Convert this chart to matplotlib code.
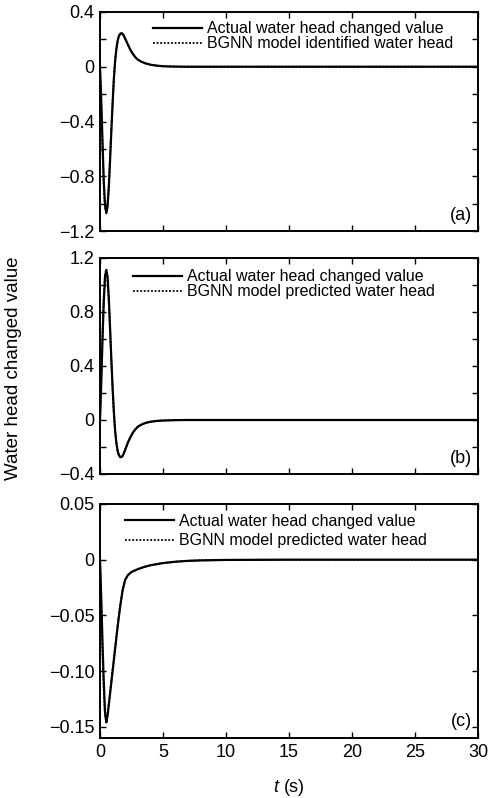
import matplotlib
matplotlib.use("Agg")
import matplotlib.pyplot as plt
from matplotlib.ticker import MultipleLocator

plt.rcParams['font.family'] = ['Liberation Sans', 'DejaVu Sans']
plt.rcParams['mathtext.fontset'] = 'custom'
plt.rcParams['mathtext.it'] = 'Liberation Sans:italic'
plt.rcParams['mathtext.rm'] = 'Liberation Sans'

# ---------------- data ----------------
t_a = [0, 0.1, 0.2, 0.3, 0.4, 0.5, 0.6, 0.7, 0.8, 0.9, 1.0, 1.1, 1.2, 1.3, 1.4, 1.5,
       1.6, 1.7, 1.8, 1.9, 2.0, 2.2, 2.4, 2.6, 2.8, 3.0, 3.3, 3.6, 4.0, 4.5, 5.0,
       5.5, 6.0, 7.0, 8.0, 10, 15, 20, 25, 30]
actual_a = [0, -0.25, -0.55, -0.84, -1.01, -1.07, -1.02, -0.88, -0.68, -0.47, -0.27,
            -0.09, 0.04, 0.13, 0.19, 0.225, 0.24, 0.245, 0.24, 0.225, 0.205, 0.165,
            0.125, 0.095, 0.07, 0.052, 0.036, 0.025, 0.015, 0.008, 0.004, 0.002,
            0.001, 0.0, 0.0, 0.0, 0.0, 0.0, 0.0, 0.0]
model_a = [0, -0.3, -0.6, -0.88, -1.03, -1.06, -1.0, -0.86, -0.66, -0.45, -0.26,
           -0.08, 0.05, 0.135, 0.19, 0.225, 0.24, 0.245, 0.24, 0.225, 0.205, 0.165,
           0.125, 0.095, 0.07, 0.052, 0.036, 0.025, 0.015, 0.008, 0.004, 0.002,
           0.001, 0.0, 0.0, 0.0, 0.0, 0.0, 0.0, 0.0]

t_b = [0, 0.1, 0.2, 0.3, 0.4, 0.5, 0.6, 0.7, 0.8, 0.9, 1.0, 1.1, 1.2, 1.3, 1.4, 1.5,
       1.6, 1.7, 1.8, 1.9, 2.0, 2.2, 2.4, 2.6, 2.8, 3.0, 3.3, 3.6, 4.0, 4.5, 5.0,
       6.0, 7.0, 8.0, 10, 15, 20, 25, 30]
actual_b = [0, 0.28, 0.6, 0.88, 1.06, 1.11, 1.06, 0.9, 0.68, 0.45, 0.24, 0.06, -0.08,
            -0.17, -0.23, -0.26, -0.275, -0.275, -0.265, -0.245, -0.22, -0.17, -0.13,
            -0.095, -0.07, -0.05, -0.033, -0.022, -0.013, -0.007, -0.004, -0.001,
            0.0, 0.0, 0.0, 0.0, 0.0, 0.0, 0.0]
model_b = [0, 0.33, 0.65, 0.92, 1.08, 1.12, 1.05, 0.88, 0.66, 0.44, 0.23, 0.05, -0.08,
           -0.17, -0.23, -0.26, -0.275, -0.275, -0.265, -0.245, -0.22, -0.17, -0.13,
           -0.095, -0.07, -0.05, -0.033, -0.022, -0.013, -0.007, -0.004, -0.001,
           0.0, 0.0, 0.0, 0.0, 0.0, 0.0, 0.0]

t_c = [0, 0.1, 0.2, 0.3, 0.4, 0.5, 0.6, 0.8, 1.0, 1.2, 1.4, 1.6, 1.8, 2.0, 2.2, 2.5,
       3.0, 3.5, 4.0, 5.0, 6.0, 7.0, 8.0, 10, 15, 20, 25, 30]
actual_c = [0, -0.035, -0.075, -0.11, -0.137, -0.146, -0.14, -0.12, -0.1, -0.08,
            -0.06, -0.042, -0.027, -0.018, -0.014, -0.011, -0.0085, -0.0065, -0.005,
            -0.003, -0.0018, -0.001, -0.0006, -0.0002, 0.0, 0.0, 0.0, 0.0]
model_c = [0, -0.045, -0.085, -0.118, -0.14, -0.145, -0.139, -0.119, -0.099, -0.079,
           -0.059, -0.041, -0.027, -0.018, -0.014, -0.011, -0.0085, -0.0065, -0.005,
           -0.003, -0.0018, -0.001, -0.0006, -0.0002, 0.0, 0.0, 0.0, 0.0]

legend_a = ["Actual water head changed value", "BGNN model identified water head"]
legend_bc = ["Actual water head changed value", "BGNN model predicted water head"]

xticks = [0, 5, 10, 15, 20, 25, 30]
yticks_a = [-1.2, -0.8, -0.4, 0, 0.4]
ylabels_a = ["\u22121.2", "\u22120.8", "\u22120.4", "0", "0.4"]
yticks_b = [-0.4, 0, 0.4, 0.8, 1.2]
ylabels_b = ["\u22120.4", "0", "0.4", "0.8", "1.2"]
yticks_c = [-0.15, -0.10, -0.05, 0, 0.05]
ylabels_c = ["\u22120.15", "\u22120.10", "\u22120.05", "0", "0.05"]

# ---------------- figure ----------------
W, H = 492, 798
fig = plt.figure(figsize=(W / 100, H / 100), dpi=100)


def ax_at(left, top, right, bottom):
    return fig.add_axes([left / W, 1 - bottom / H, (right - left) / W, (bottom - top) / H])


axa = ax_at(100, 12, 478, 231)
axb = ax_at(100, 258, 478, 474)
axc = ax_at(100, 504, 478, 738)

panels = [
    (axa, t_a, actual_a, model_a, legend_a, (-1.2, 0.4), yticks_a, ylabels_a, 0.2, "(a)", (0.14, 0.958), 0.0),
    (axb, t_b, actual_b, model_b, legend_bc, (-0.4, 1.2), yticks_b, ylabels_b, 0.2, "(b)", (0.087, 0.947), 0.0),
    (axc, t_c, actual_c, model_c, legend_bc, (-0.16, 0.05), yticks_c, ylabels_c, None, "(c)", (0.066, 0.958), 0.28),
]

for ax, t, act, mod, leg, ylim, yt, yl, minor, tag, lpos, lsp in panels:
    ax.plot(t, act, color='black', lw=1.6, ls='-', label=leg[0])
    ax.plot(t, mod, color='black', lw=1.3, ls=(0, (1, 1)), label=leg[1])
    ax.set_xlim(0, 30)
    ax.set_ylim(*ylim)
    ax.set_xticks(xticks)
    ax.set_yticks(yt)
    ax.set_yticklabels(yl)
    if minor:
        ax.yaxis.set_minor_locator(MultipleLocator(minor))
    ax.tick_params(which='both', direction='in', top=True, right=True,
                   length=4, width=1.0, labelsize=13, pad=4)
    for s in ax.spines.values():
        s.set_linewidth(1.4)
    if ax is not axc:
        ax.set_xticklabels([])
    ax.text(0.985, 0.07, tag, transform=ax.transAxes, ha='right', va='center', fontsize=13)
    ax.legend(loc='upper left', bbox_to_anchor=lpos, frameon=False, fontsize=11.5,
              handlelength=3.1, handletextpad=0.3, labelspacing=lsp,
              borderpad=0, borderaxespad=0)

axc.set_xlabel(r"$t$ (s)", fontsize=13, labelpad=12)
fig.text(14 / W, 1 - 368 / H, "Water head changed value", rotation=90,
         ha='center', va='center', fontsize=13.5)

fig.savefig("out.png", dpi=100)
